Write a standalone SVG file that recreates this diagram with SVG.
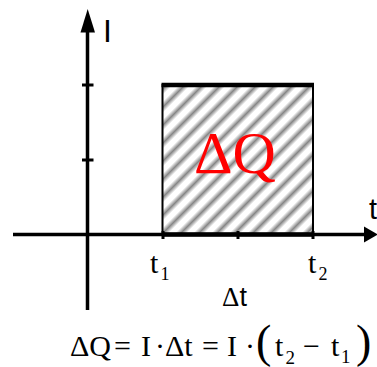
<svg xmlns="http://www.w3.org/2000/svg" width="377" height="367" viewBox="0 0 377 367">
<style>
.ser{font-family:'Liberation Serif','Times New Roman',serif}
.san{font-family:'Liberation Sans',Arial,sans-serif}
.ax{stroke:#000;stroke-width:3.5;fill:none}
.tk{stroke:#000;stroke-width:3;fill:none}
</style>
<defs>
<linearGradient id="hatch" gradientUnits="userSpaceOnUse" x1="0" y1="0" x2="9" y2="9" spreadMethod="repeat">
<stop offset="0" stop-color="#878787"/>
<stop offset="0.33" stop-color="#ffffff"/>
<stop offset="0.67" stop-color="#ffffff"/>
<stop offset="1" stop-color="#878787"/>
</linearGradient>
</defs>
<rect width="377" height="367" fill="#fff"/>
<g id="area">
<rect x="162.5" y="85" width="150.5" height="149.5" fill="url(#hatch)" stroke="#000" stroke-width="2"/>
<line x1="161.5" y1="85" x2="314" y2="85" stroke="#000" stroke-width="4.5"/>
<text class="ser" x="194" y="173" font-size="60" fill="#ff0000">ΔQ</text>
</g>
<g id="connectors">
<line class="ax" x1="87.5" y1="310" x2="87.5" y2="30"/>
<polygon points="80.5,32.5 87.7,9 95,32.5" fill="#000"/>
<line class="ax" x1="13" y1="234.5" x2="366" y2="234.5"/>
<polygon points="364,226.5 378,234.5 364,242.5" fill="#000"/>
<line x1="162.5" y1="234.5" x2="313" y2="234.5" stroke="#000" stroke-width="4.5"/>
<line class="tk" x1="82" y1="85" x2="93.5" y2="85"/>
<line class="tk" x1="82" y1="160" x2="93.5" y2="160"/>
<line class="tk" x1="163" y1="231" x2="163" y2="239"/>
<line class="tk" x1="238" y1="231" x2="238" y2="239"/>
<line class="tk" x1="313" y1="231" x2="313" y2="239"/>
</g>
<g id="axis-labels">
<text class="san" x="103" y="42" font-size="32">I</text>
<text class="san" x="369" y="219" font-size="29">t</text>
<text class="ser" x="150" y="273" font-size="30">t<tspan x="160.5" y="280" font-size="18">1</tspan></text>
<text class="ser" x="308" y="273" font-size="30">t<tspan x="318.5" y="280" font-size="18">2</tspan></text>
<text x="222" y="306" font-size="27"><tspan class="ser">Δ</tspan><tspan class="san">t</tspan></text>
</g>
<g id="formula" class="ser" font-size="30">
<text x="70" y="356">ΔQ</text>
<text x="114" y="356">=</text>
<text x="141" y="356">I</text>
<text x="155" y="356">·</text>
<text x="165" y="356">Δt</text>
<text x="202" y="356">=</text>
<text x="227" y="356">I</text>
<text x="245" y="356">·</text>
<text x="256" y="357" font-size="46">(</text>
<text x="275" y="356">t<tspan x="285.5" y="364" font-size="19">2</tspan></text>
<text x="303" y="356">−</text>
<text x="331" y="356">t<tspan x="341" y="363" font-size="19">1</tspan></text>
<text x="356" y="357" font-size="46">)</text>
</g>
</svg>
